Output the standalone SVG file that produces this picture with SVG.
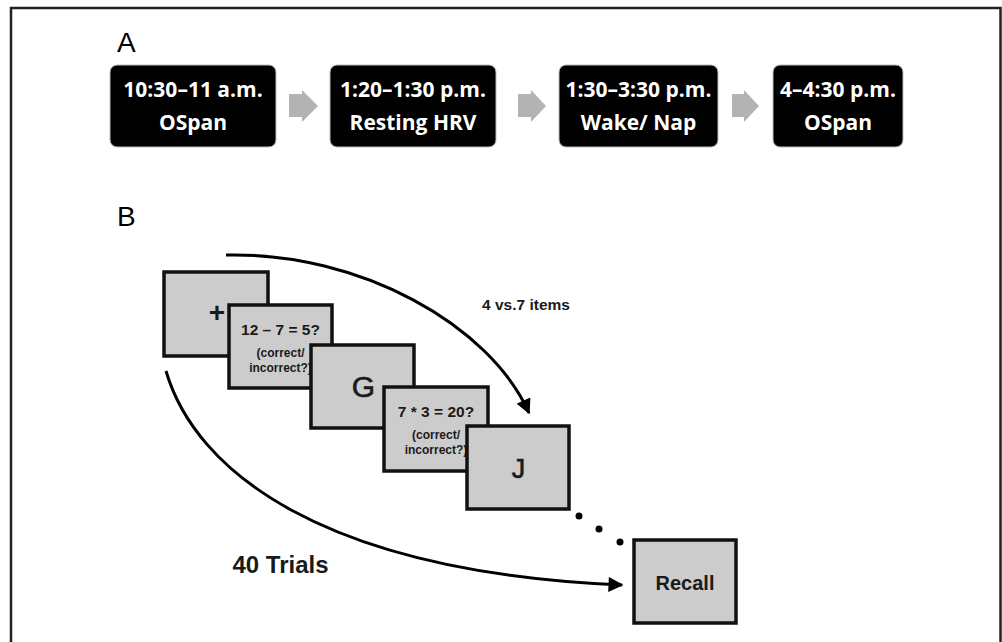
<svg xmlns="http://www.w3.org/2000/svg" width="1002" height="642" viewBox="0 0 1002 642">
<defs>
<style>
.frame{fill:#fff;stroke:#222;stroke-width:2.5}
.blk{fill:#000;stroke:#bbb;stroke-width:1}
.wt{font-family:"Open Sans","Noto Sans",sans-serif;font-weight:700;font-size:21px;fill:#fff;text-anchor:middle}
.lab{font-family:"Liberation Sans",Arial,sans-serif;font-size:28px;fill:#000}
.garr{fill:#b3b3b3}
.scr{fill:#cccccc;stroke:#111;stroke-width:3.5}
.st{font-family:"Liberation Sans",Arial,sans-serif;fill:#1a1a1a;text-anchor:middle}
.b{font-weight:700}
.con{fill:none;stroke:#000;stroke-width:3}
</style>
<marker id="ah" viewBox="0 0 10 10" refX="9" refY="5" markerWidth="5.5" markerHeight="5" markerUnits="strokeWidth" orient="auto">
<path d="M0,0 L10,5 L0,10 z" fill="#000"/>
</marker>
</defs>
<rect x="0" y="0" width="1002" height="642" fill="#fff"/>
<rect class="frame" x="11" y="8" width="989.5" height="650"/>

<text class="lab" x="117" y="52">A</text>
<text class="lab" x="117" y="226">B</text>

<g id="a1">
<rect class="blk" x="110" y="65" width="166" height="82" rx="7"/>
<text class="wt" x="193" y="97">10:30–11 a.m.</text>
<text class="wt" x="193" y="130">OSpan</text>
</g>
<g id="a2">
<rect class="blk" x="330" y="65" width="166" height="82" rx="7"/>
<text class="wt" x="413" y="97">1:20–1:30 p.m.</text>
<text class="wt" x="413" y="130">Resting HRV</text>
</g>
<g id="a3">
<rect class="blk" x="559" y="65" width="159" height="82" rx="7"/>
<text class="wt" x="638.5" y="97">1:30–3:30 p.m.</text>
<text class="wt" x="638.5" y="130">Wake/ Nap</text>
</g>
<g id="a4">
<rect class="blk" x="773" y="65" width="130" height="82" rx="7"/>
<text class="wt" x="838" y="97">4–4:30 p.m.</text>
<text class="wt" x="838" y="130">OSpan</text>
</g>

<g id="s1">
<rect class="scr" x="164" y="272" width="104" height="84"/>
<text class="st b" x="217" y="322" font-size="28">+</text>
</g>
<g id="s2">
<rect class="scr" x="229" y="305" width="103" height="83"/>
<text class="st b" x="280.5" y="335" font-size="15.5">12 – 7 = 5?</text>
<text class="st b" x="280.5" y="357" font-size="12">(correct/</text>
<text class="st b" x="280.5" y="372" font-size="12">incorrect?)</text>
</g>
<g id="s3">
<rect class="scr" x="311" y="345" width="103" height="83"/>
<text class="st" x="363.5" y="397" font-size="30" stroke="#1a1a1a" stroke-width="0.6">G</text>
</g>
<g id="s4">
<rect class="scr" x="384" y="387" width="104" height="84"/>
<text class="st b" x="436" y="417" font-size="15.5">7 * 3 = 20?</text>
<text class="st b" x="436" y="439" font-size="12">(correct/</text>
<text class="st b" x="436" y="454" font-size="12">incorrect?)</text>
</g>
<g id="s5">
<rect class="scr" x="467" y="426" width="102" height="83"/>
<text class="st" x="518.5" y="478" font-size="27" stroke="#1a1a1a" stroke-width="0.6">J</text>
</g>
<g id="recall">
<rect class="scr" x="634" y="540" width="102" height="83"/>
<text class="st b" x="685" y="590" font-size="20">Recall</text>
</g>

<g id="connectors">
<polygon class="garr" points="289,94 302,94 302,90 318,106 302,122 302,117 289,117"/>
<polygon class="garr" points="518,94 531,94 531,90 546,106 531,122 531,117 518,117"/>
<polygon class="garr" points="732,94 744,94 744,90 759,106 744,122 744,117 732,117"/>
<path class="con" d="M226,255 C360,252 490,325 529,413" marker-end="url(#ah)"/>
<path class="con" d="M166,371 C195,470 320,572 622,585" marker-end="url(#ah)"/>
<circle cx="579" cy="516" r="3.5" fill="#000"/>
<circle cx="599" cy="529" r="3.5" fill="#000"/>
<circle cx="620" cy="542" r="3.5" fill="#000"/>
</g>

<text class="st b" x="526" y="310" font-size="15.5">4 vs.7 items</text>
<text class="st b" x="280.5" y="573" font-size="24">40 Trials</text>
</svg>
